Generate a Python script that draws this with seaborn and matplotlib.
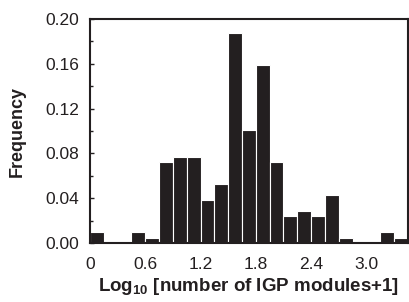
import numpy as np
import matplotlib
matplotlib.use("Agg")
import matplotlib.pyplot as plt
import seaborn as sns
from matplotlib.ticker import MultipleLocator

# Data: histogram bins (bin width 0.15) and their frequencies
bin_edges = [round(0.15 * i, 2) for i in range(24)]
bin_centers = [round(0.075 + 0.15 * i, 3) for i in range(23)]
frequency = [0.0096, 0.0, 0.0, 0.0096, 0.0048, 0.0721, 0.0769, 0.0769, 0.0385,
             0.0529, 0.1875, 0.1010, 0.1587, 0.0721, 0.0240, 0.0288, 0.0240,
             0.0433, 0.0048, 0.0, 0.0, 0.0096, 0.0048]
x_ticks = [0, 0.6, 1.2, 1.8, 2.4, 3.0]
x_tick_labels = ["0", "0.6", "1.2", "1.8", "2.4", "3.0"]
y_ticks = [0.00, 0.04, 0.08, 0.12, 0.16, 0.20]
y_tick_labels = ["0.00", "0.04", "0.08", "0.12", "0.16", "0.20"]

sns.set_style("ticks")
plt.rcParams["font.family"] = ["Liberation Sans", "DejaVu Sans"]
plt.rcParams["mathtext.fontset"] = "custom"
plt.rcParams["mathtext.rm"] = "Liberation Sans:bold"
plt.rcParams["mathtext.it"] = "Liberation Sans:bold"
plt.rcParams["mathtext.bf"] = "Liberation Sans:bold"

fig = plt.figure(figsize=(4.09, 3.02), dpi=100)
ax = fig.add_axes([0.220, 0.195, 0.777, 0.742])

sns.histplot(x=bin_centers, weights=frequency, bins=bin_edges, ax=ax,
             color="#231f20", alpha=1.0, edgecolor="white", linewidth=0.8)

ax.set_xlim(0, 3.45)
ax.set_ylim(0, 0.20)
ax.set_xticks(x_ticks)
ax.set_xticklabels(x_tick_labels)
ax.set_yticks(y_ticks)
ax.set_yticklabels(y_tick_labels)
ax.yaxis.set_minor_locator(MultipleLocator(0.02))
ax.tick_params(axis="x", length=0, labelsize=12.5, pad=10, colors="#231f20")
ax.tick_params(axis="y", which="major", direction="in", length=3, width=1,
               labelsize=12.5, pad=8, colors="#231f20")
ax.tick_params(axis="y", which="minor", direction="in", length=2, width=1,
               colors="#231f20")

for s in ax.spines.values():
    s.set_visible(True)
    s.set_linewidth(1.5)
    s.set_color("#231f20")

ax.set_xlabel(r"Log$_{10}$ [number of IGP modules+1]", fontsize=13.5,
              fontweight="bold", color="#231f20", labelpad=3)
ax.set_ylabel("Frequency", fontsize=13, fontweight="bold",
              color="#231f20", labelpad=14)

fig.savefig("out.png", dpi=100)
